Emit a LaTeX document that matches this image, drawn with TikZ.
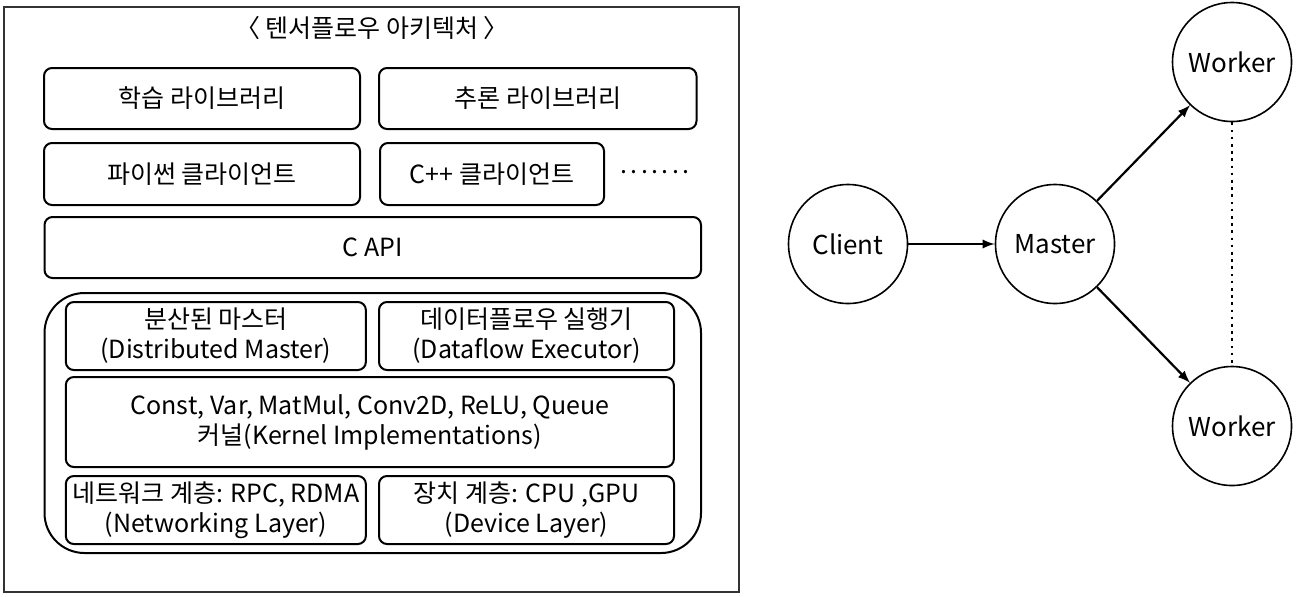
\documentclass[tikz,border=0pt]{standalone}
\usepackage{fontspec}
\setmainfont{Noto Sans CJK KR}
\usepackage{tikz}
\newcommand{\moredots}{.\kern1.7pt.\kern1.7pt.\kern1.7pt.\kern1.7pt.\kern1.7pt.\kern1.7pt.}

\begin{document}
\begin{tikzpicture}[x=0.5pt,y=-0.5pt,
    blk/.style={draw,rounded corners=4pt,line width=1pt,align=center,inner sep=0pt,font=\fontsize{12.5}{15}\selectfont},
    proc/.style={circle,draw,line width=0.8pt,minimum size=59.5pt,inner sep=0pt,font=\fontsize{13}{16}\selectfont}]
  \useasboundingbox (0,0) rectangle (1299,596);
  % architecture stack
  \draw[line width=1pt,black!80] (4,6.5) rectangle (739,592);
  \node[font=\fontsize{12.5}{15}\selectfont] (title) at (372,28) {〈 텐서플로우 아키텍처 〉};
  \node[blk,minimum width=158pt,minimum height=30.5pt] (train) at (202,98.5) {학습 라이브러리};
  \node[blk,minimum width=158.75pt,minimum height=30.5pt] (infer) at (537.75,98.5) {추론 라이브러리};
  \node[blk,minimum width=158pt,minimum height=31pt] (pyclient) at (202,174) {파이썬 클라이언트};
  \node[blk,minimum width=112pt,minimum height=31pt] (cppclient) at (492,174) {C++ 클라이언트};
  \node[font=\fontsize{12.5}{15}\selectfont] (more) at (655,172) {\moredots};
  \node[blk,minimum width=328.25pt,minimum height=30.5pt] (capi) at (372.75,247.5) {C API};
  \node[blk,rounded corners=20pt,minimum width=328.25pt,minimum height=130pt] (core) at (372.75,423) {};
  \node[blk,minimum width=150pt,minimum height=34pt] (master) at (215.85,336) {분산된 마스터\\(Distributed Master)};
  \node[blk,minimum width=147.5pt,minimum height=34pt] (executor) at (526.5,336) {데이터플로우 실행기\\(Dataflow Executor)};
  \node[blk,minimum width=304pt,minimum height=45pt] (kernel) at (369.85,422) {Const, Var, MatMul, Conv2D, ReLU, Queue\\커널(Kernel Implementations)};
  \node[blk,minimum width=150pt,minimum height=34pt] (network) at (215.85,510) {네트워크 계층: RPC, RDMA\\(Networking Layer)};
  \node[blk,minimum width=147.5pt,minimum height=34pt] (device) at (526.5,510) {장치 계층: CPU ,GPU\\(Device Layer)};
  % distributed processes
  \node[proc] (client) at (848,244) {Client};
  \node[proc] (mst) at (1055,244) {Master};
  \node[proc] (wtop) at (1232,62) {Worker};
  \node[proc] (wbot) at (1232,426) {Worker};
  \path[-latex,line width=1.1pt] (client) edge (mst)
    (mst) edge (wtop)
          edge (wbot);
  \draw[line width=1.3pt,dash pattern=on 1.3pt off 2.3pt] (wtop) -- (wbot);
\end{tikzpicture}
\end{document}
